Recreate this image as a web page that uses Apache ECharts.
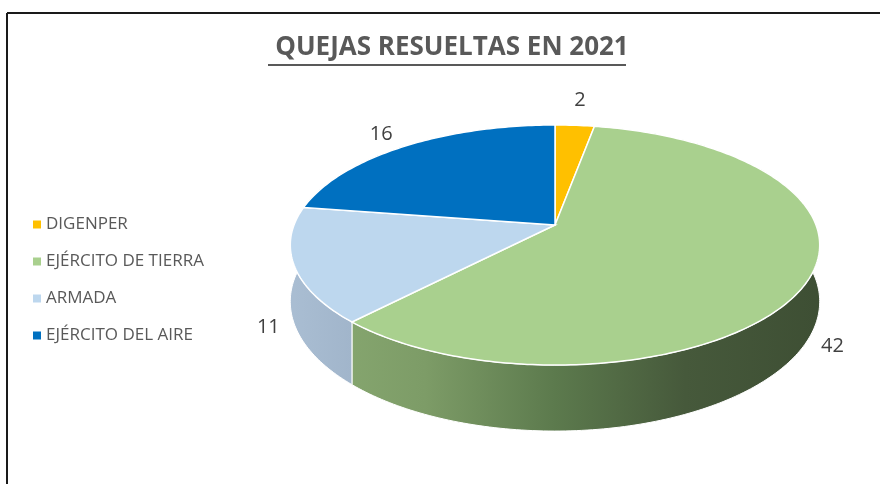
<!DOCTYPE html>
<html>
<head>
<meta charset="utf-8">
<script src="https://cdn.jsdelivr.net/npm/echarts@6/dist/echarts.min.js"></script>
<style>
  html, body { margin: 0; padding: 0; background: #fff; }
  #chart { width: 880px; height: 484px; }
</style>
</head>
<body>
<div id="chart"></div>
<script>
// data
const categories = ["DIGENPER", "EJÉRCITO DE TIERRA", "ARMADA", "EJÉRCITO DEL AIRE"];
const values = [2, 42, 11, 16];

// styles
const topColors = ["#ffc000", "#a9d08e", "#bdd7ee", "#0070c0"];
const sideStops = [
  ["#d9a300", "#a67c00"],
  ["#8aab73", "#7d9c67", "#5c7a4d", "#46593b", "#3e4f34"],
  ["#a9bdd2", "#97abc2", "#7f93a8", "#6d7f92", "#647585"],
  ["#005fa3", "#003f6d"]
];

// fake 3d pie geometry
const cx = 555, cy = 225, rx = 261, ry = 116.7, k = 0.1667, depth = 55;
const total = values.reduce((a, b) => a + b, 0);
const starts = [];
let acc = 0;
values.forEach(v => { starts.push(acc / total * Math.PI * 2); acc += v; });

function project(theta, r, h) {
  const z = r * Math.cos(theta);
  const s = 1 / (1 + k * z);
  return [cx + rx * r * Math.sin(theta) * s, cy - ry * z * s + h * s];
}

function arc(a0, a1, h) {
  const n = Math.max(2, Math.ceil((a1 - a0) / (Math.PI / 180)));
  const pts = [];
  for (let i = 0; i <= n; i++) pts.push(project(a0 + (a1 - a0) * i / n, 1, h));
  return pts;
}

function makeRender(idx) {
  return function (params, api) {
    const v = api.value(0);
    const a0 = starts[idx];
    const a1 = a0 + v / total * Math.PI * 2;
    const topArc = arc(a0, a1, 0);
    const botArc = arc(a0, a1, depth).reverse();
    const stops = sideStops[idx];
    const grad = new echarts.graphic.LinearGradient(cx - rx, 0, cx + rx, 0,
      stops.map((c, i) => ({ offset: i / (stops.length - 1), color: c })), true);

    // label just outside the slice
    const mid = (a0 + a1) / 2;
    const near = Math.cos(mid) < 0;
    const rim = project(mid, 1, near ? depth : 0);
    let dx = rx * Math.sin(mid), dy = -ry * Math.cos(mid);
    const len = Math.sqrt(dx * dx + dy * dy);
    dx = dx / len * 26; dy = dy / len * 26;

    return {
      type: "group",
      children: [
        {
          type: "polygon",
          z2: 1,
          shape: { points: topArc.concat(botArc) },
          style: { fill: grad, stroke: "#ffffff", lineWidth: 1 }
        },
        {
          type: "polygon",
          z2: 10,
          shape: { points: [[cx, cy]].concat(topArc) },
          style: { fill: topColors[idx], stroke: "#ffffff", lineWidth: 1.5 }
        },
        {
          type: "text",
          z2: 20,
          x: rim[0] + dx,
          y: rim[1] + dy,
          style: {
            text: String(v),
            fill: "#404040",
            font: "20px 'Open Sans'",
            align: "center",
            verticalAlign: "middle"
          }
        }
      ]
    };
  };
}

const chart = echarts.init(document.getElementById("chart"));
chart.setOption({
  animation: false,
  color: topColors,
  title: {
    text: "QUEJAS RESUELTAS EN 2021",
    left: 447,
    textAlign: "center",
    top: 30,
    textStyle: {
      color: "#595959",
      fontFamily: "Open Sans",
      fontWeight: "bold",
      fontSize: 26
    }
  },
  legend: {
    orient: "vertical",
    left: 28,
    top: 211,
    itemWidth: 8,
    itemHeight: 8,
    itemGap: 20,
    icon: "rect",
    selectedMode: false,
    data: categories,
    textStyle: {
      color: "#595959",
      fontFamily: "Open Sans",
      fontSize: 17,
      lineHeight: 17
    }
  },
  graphic: [
    { type: "line", shape: { x1: 268, y1: 65, x2: 626, y2: 65 }, style: { stroke: "#595959", lineWidth: 2 } },
    { type: "line", shape: { x1: 7, y1: 13, x2: 880, y2: 13 }, style: { stroke: "#1a1a1a", lineWidth: 2 } },
    { type: "line", shape: { x1: 7, y1: 13, x2: 7, y2: 484 }, style: { stroke: "#1a1a1a", lineWidth: 2 } }
  ],
  series: categories.map((name, i) => ({
    type: "custom",
    name: name,
    coordinateSystem: "none",
    itemStyle: { color: topColors[i] },
    renderItem: makeRender(i),
    data: [[values[i]]]
  }))
});
</script>
</body>
</html>
